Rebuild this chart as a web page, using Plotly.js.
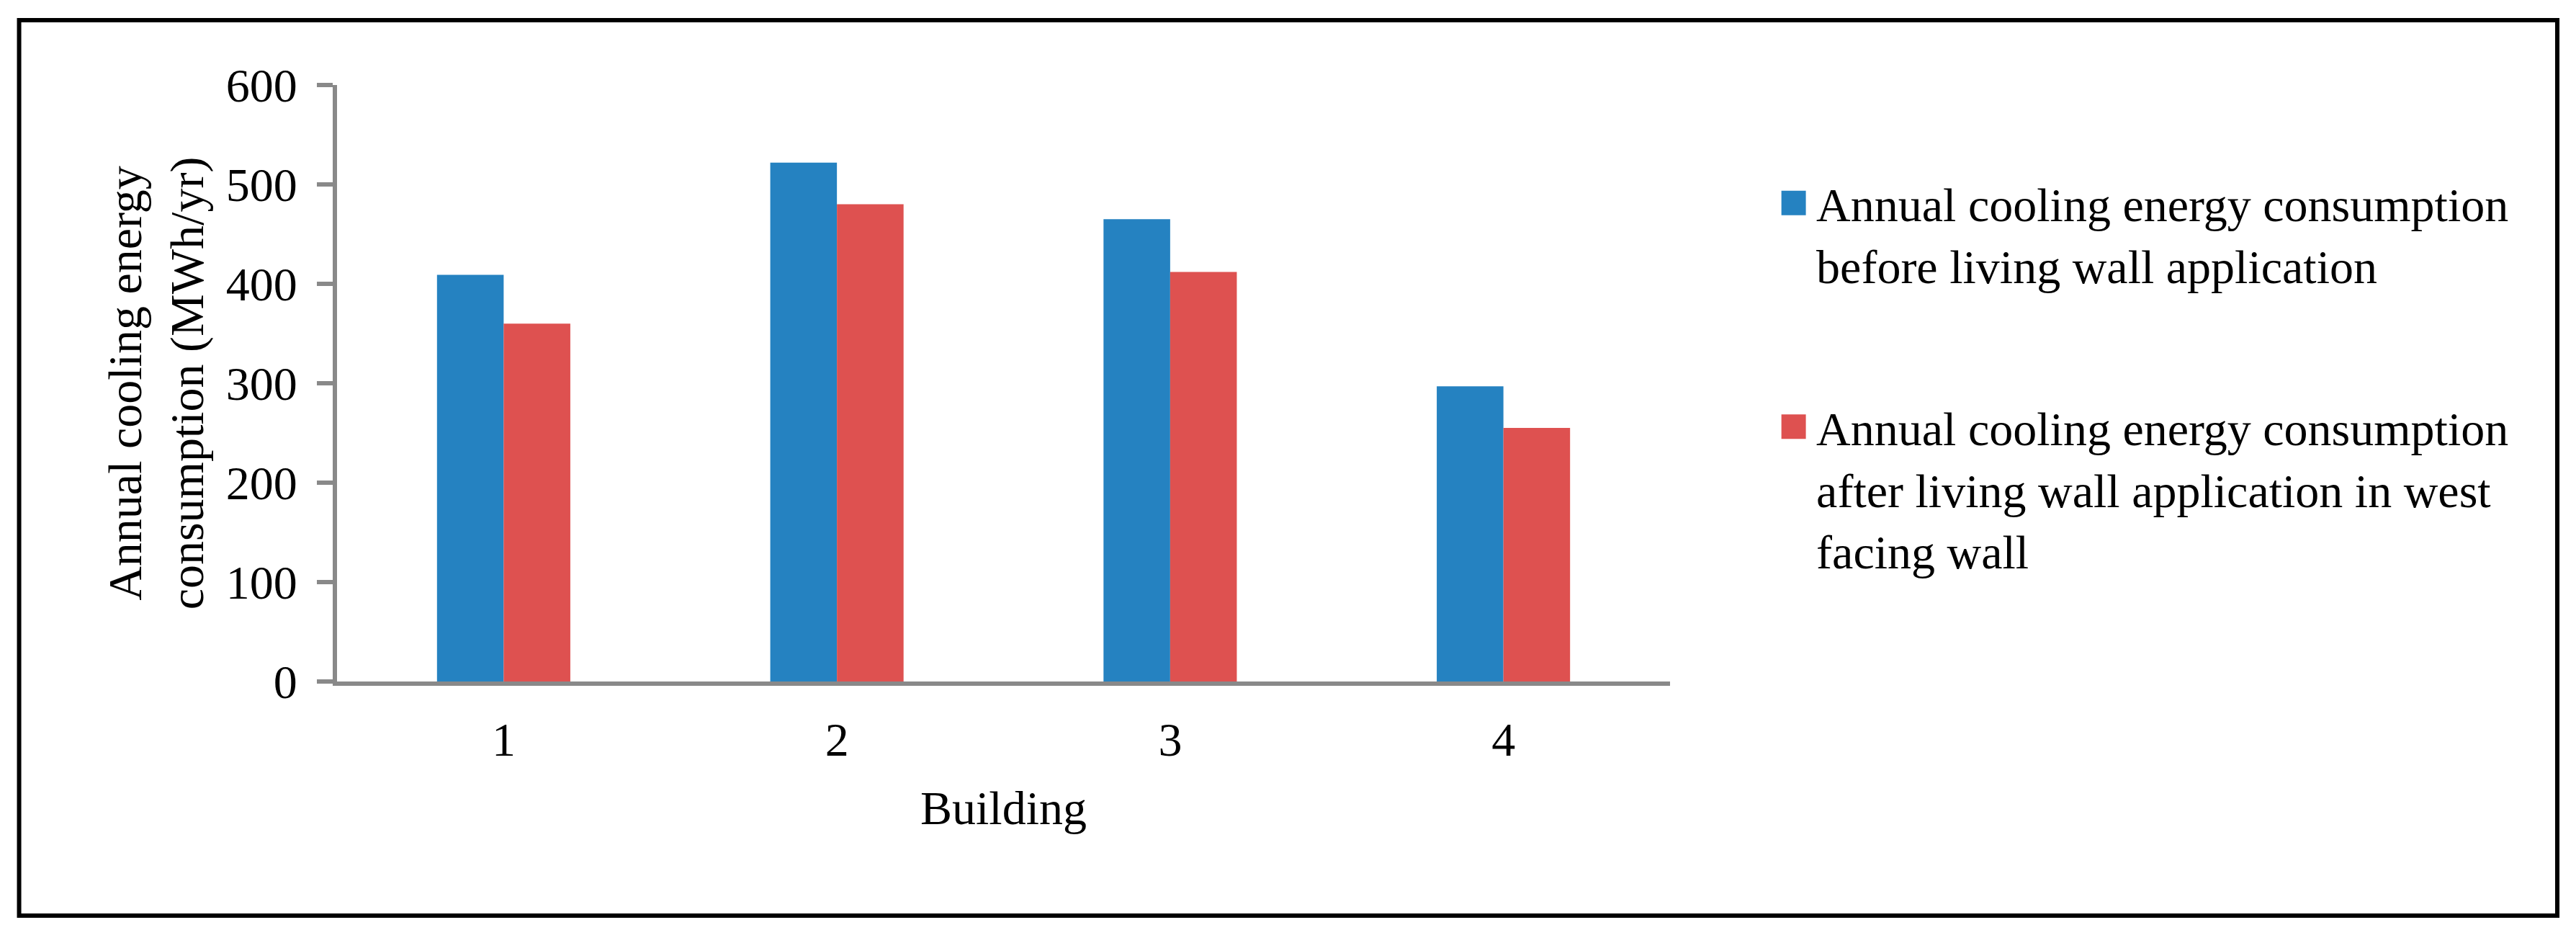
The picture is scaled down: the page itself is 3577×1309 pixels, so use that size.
<!DOCTYPE html>
<html>
<head>
<meta charset="utf-8">
<script src="https://cdn.plot.ly/plotly-3.0.1.min.js"></script>
<style>
  html, body { margin: 0; padding: 0; background: #fff; }
</style>
</head>
<body>
<div id="plot"></div>
<script>
// building numbers on the x axis
var buildings = ['1', '2', '3', '4']

// annual cooling energy, MWh/yr
var before = [409, 522, 465, 297]
var after = [360, 480, 412, 255]

var nameBefore = 'Annual cooling energy consumption<br>before living wall application'
var nameAfter = 'Annual cooling energy consumption<br>after living wall application in west<br>facing wall'

var yTicks = [0, 100, 200, 300, 400, 500, 600]

var serif = '"Liberation Serif", "Times New Roman", serif'
var axisGrey = '#898989'

var data = []

data.push({
	x: buildings,
	y: before,
	name: nameBefore,
	type: 'bar',
	legend: 'legend',
	marker: {color: '#2582C1', line: {width: 0}},
	hoverinfo: 'x+y'
})

data.push({
	x: buildings,
	y: after,
	name: nameAfter,
	type: 'bar',
	legend: 'legend2',
	marker: {color: '#DE5150', line: {width: 0}},
	hoverinfo: 'x+y'
})

var legendFont = {family: serif, size: 66, color: '#000'}

var layout = {
	width: 3577,
	height: 1309,
	margin: {l: 468, r: 1258, t: 118, b: 363, pad: 0},
	paper_bgcolor: '#fff',
	plot_bgcolor: '#fff',
	font: {family: serif, size: 66, color: '#000'},
	showlegend: true,
	barmode: 'group',
	bargap: 0.6,
	bargroupgap: 0,
	xaxis: {
		type: 'category',
		title: {text: 'Building', font: {family: serif, size: 66, color: '#000'}, standoff: 38},
		showline: true,
		linecolor: axisGrey,
		linewidth: 6,
		ticks: '',
		ticklabelstandoff: 18,
		showgrid: false,
		zeroline: false,
		tickfont: {family: serif, size: 66, color: '#000'}
	},
	yaxis: {
		range: [0, 600],
		tickvals: yTicks,
		ticktext: yTicks.map(String),
		title: {text: 'Annual cooling energy<br>consumption (MWh/yr)', font: {family: serif, size: 66, color: '#000'}, standoff: 12},
		showline: true,
		linecolor: axisGrey,
		linewidth: 6,
		ticks: 'outside',
		ticklen: 22,
		tickwidth: 6,
		tickcolor: axisGrey,
		ticklabelstandoff: 14,
		showgrid: false,
		zeroline: false,
		tickfont: {family: serif, size: 66, color: '#000'}
	},
	legend: {
		x: 1.0757, xanchor: 'left',
		y: 0.862, yanchor: 'top',
		font: legendFont,
		itemwidth: 53,
		valign: 'top',
		borderwidth: 0,
		bgcolor: 'rgba(0,0,0,0)'
	},
	legend2: {
		x: 1.0757, xanchor: 'left',
		y: 0.487, yanchor: 'top',
		font: legendFont,
		itemwidth: 53,
		valign: 'top',
		borderwidth: 0,
		bgcolor: 'rgba(0,0,0,0)'
	},
	shapes: [{
		type: 'rect',
		xref: 'paper', yref: 'paper',
		x0: -0.2385, x1: 1.6656,
		y0: -0.3925, y1: 1.1087,
		line: {color: '#000', width: 6},
		fillcolor: 'rgba(0,0,0,0)',
		layer: 'above'
	}]
}

Plotly.newPlot('plot', data, layout, {displayModeBar: false, responsive: false}).then(function (gd) {
	// the legend squares in the picture are much bigger than plotly's 12px swatch
	gd.querySelectorAll('.legendpoints path').forEach(function (p) {
		var t = p.getAttribute('transform') || ''
		p.setAttribute('transform', t + ' scale(2.83)')
	})
})
</script>
</body>
</html>
